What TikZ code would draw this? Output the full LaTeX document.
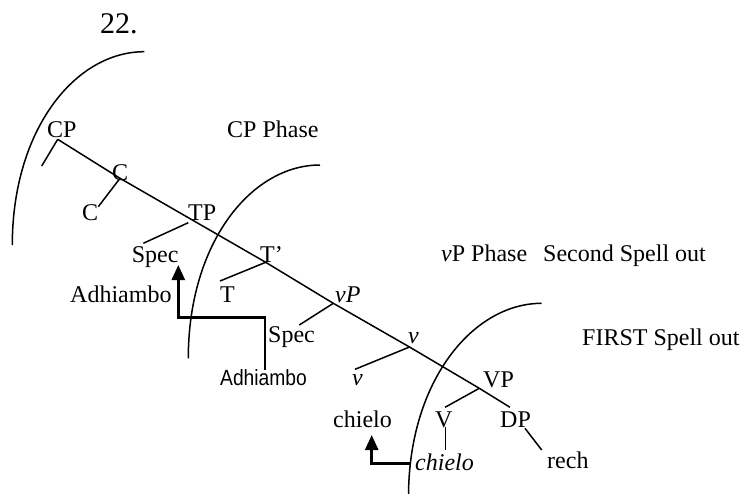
\documentclass[tikz,border=0pt]{standalone}
\usepackage{fontspec}
\setmainfont{Liberation Serif}
\newfontfamily\adsans{Liberation Sans}
\usetikzlibrary{arrows.meta}
\tikzset{
  lbl/.style={anchor=base west,inner sep=0pt,font=\fontsize{24}{28}\selectfont},
  edge/.style={line width=1.5pt},
  arcline/.style={line width=1.5pt},
  movearrow/.style={line width=2.6pt,-{Triangle[length=15pt,width=13pt]}},
  moveline/.style={line width=2.6pt}
}
\begin{document}
\begin{tikzpicture}[x=1pt,y=-1pt]
\useasboundingbox (0,0) rectangle (742,493);
% title
\node[lbl,font=\fontsize{30}{34}\selectfont] (num) at (100,33) {22.};
% phase arcs
\draw[arcline] (144.3,51.7) .. controls (75,51.7) and (12.3,130) .. (12.3,245);
\draw[arcline] (320,165) .. controls (251,165) and (188.3,243.3) .. (188.3,358.3);
\draw[arcline] (541.7,303.3) .. controls (472.7,303.3) and (408.5,381.6) .. (408.5,496.6);
% labels
\node[lbl] (cp) at (47,137) {CP};
\node[lbl] (cpphase) at (227,137) {CP Phase};
\node[lbl] (cbar) at (112,180) {C};
\node[lbl] (c) at (82,220) {C};
\node[lbl] (tp) at (188,220) {TP};
\node[lbl] (spec1) at (131.7,262) {Spec};
\node[lbl] (tbar) at (260,262) {T’};
\node[lbl] (vpphase) at (441,261.5) {\textit{v}P Phase};
\node[lbl] (second) at (543,261.5) {Second Spell out};
\node[lbl] (t) at (220,302) {T};
\node[lbl] (adh1) at (70,302) {Adhiambo};
\node[lbl] (vp) at (335,302) {\textit{vP}};
\node[lbl] (spec2) at (268,342) {Spec};
\node[lbl] (first) at (582,345) {FIRST Spell out};
\node[lbl] (vbar) at (408,343) {\textit{v}};
\node[lbl,font=\fontsize{22}{26}\selectfont\adsans] (adh2) at (220,385) {\scalebox{0.875}[1]{Adhiambo}};
\node[lbl] (v) at (352,385) {\textit{v}};
\node[lbl] (VP) at (483,387) {VP};
\node[lbl] (chielo1) at (333,427) {chielo};
\node[lbl] (V) at (435,427) {V};
\node[lbl] (DP) at (500,427) {DP};
\node[lbl] (chielo2) at (415,470) {\textit{chielo}};
\node[lbl] (rech) at (547,468) {rech};
% tree points
\coordinate (pCP) at (57.7,139.3);
\coordinate (pC) at (120,178.3);
\coordinate (pTP) at (188.3,222.7);
\coordinate (pTb) at (265.7,262.3);
\coordinate (pvP) at (333.3,303.3);
\coordinate (pvb) at (409.5,347);
\coordinate (pVP) at (479.3,388.3);
\coordinate (pDP) at (510,407.3);
\coordinate (eCP) at (41.7,166);
\coordinate (eC) at (98.3,206.7);
\coordinate (eTP) at (143.3,243.3);
\coordinate (eTb) at (220,281);
\coordinate (evP) at (299.3,325);
\coordinate (evb) at (355,369.3);
\coordinate (eVP) at (445,407.3);
\coordinate (vTop) at (445.7,427);
\coordinate (vBot) at (445.7,450);
\coordinate (dTop) at (525,428.3);
\coordinate (dBot) at (541.7,450);
% spine
\draw[edge] (pCP) -- (pC) -- (pTb) -- (pvP) -- (pvb) -- (pVP) -- (pDP);
% branches
\draw[edge] (pCP) -- (eCP);
\draw[edge] (pC) -- (eC);
\draw[edge] (pTP) -- (eTP);
\draw[edge] (pTb) -- (eTb);
\draw[edge] (pvP) -- (evP);
\draw[edge] (pvb) -- (evb);
\draw[edge] (pVP) -- (eVP);
\draw[edge] (vTop) -- (vBot);
\draw[edge] (dTop) -- (dBot);
% movement arrows
\coordinate (m1a) at (265,370);
\coordinate (m1b) at (265,317.3);
\coordinate (m1c) at (178.3,317.3);
\coordinate (m1d) at (178.3,265);
\draw[moveline] (m1a) -- (m1b) -- (m1c);
\draw[movearrow] (m1c) ++(0,1.3) -- (m1d);
\coordinate (m2a) at (410.5,463.3);
\coordinate (m2b) at (371.7,463.3);
\coordinate (m2c) at (371.7,435);
\draw[moveline] (m2a) -- (m2b);
\draw[movearrow] (m2b) ++(0,1.3) -- (m2c);
\end{tikzpicture}
\end{document}
